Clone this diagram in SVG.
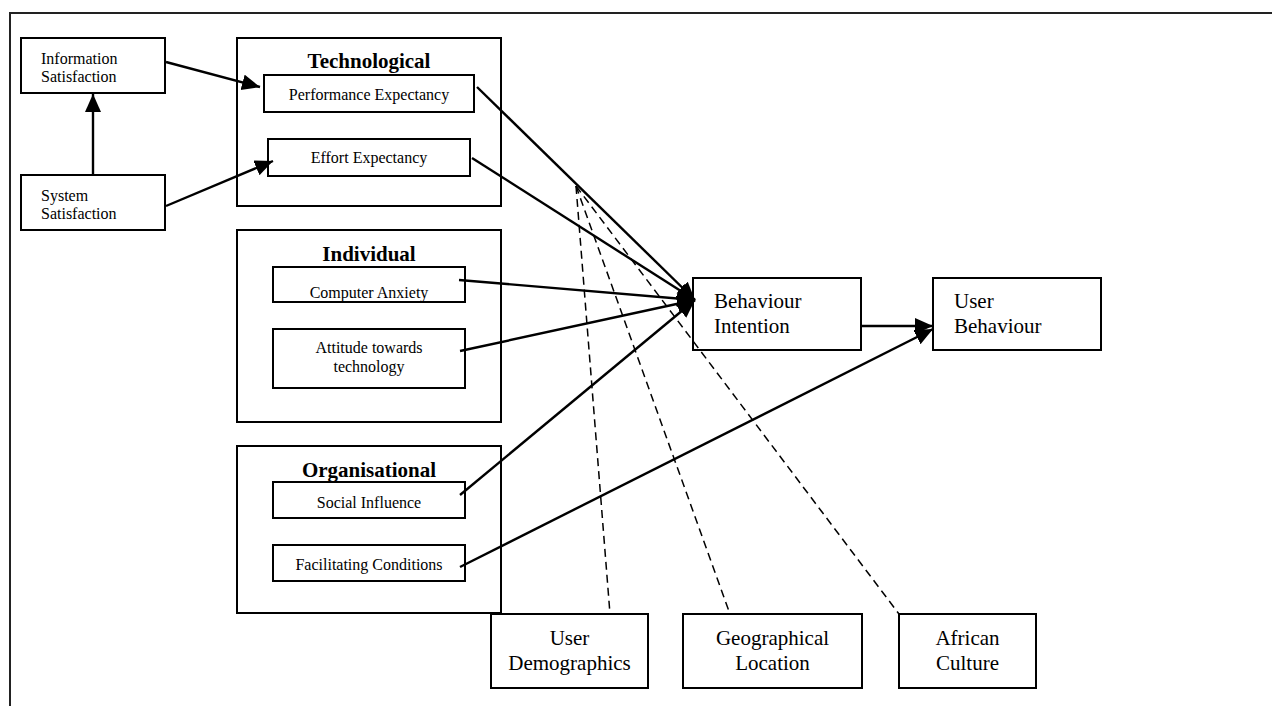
<svg xmlns="http://www.w3.org/2000/svg" width="1272" height="706" viewBox="0 0 1272 706">
<style>
.box{fill:#fff;stroke:#000;stroke-width:2}
.t{font-family:"Liberation Serif","Times New Roman",serif;fill:#000}
.s{font-size:16px}
.m{font-size:21px}
.h{font-size:21px;font-weight:bold}
.c{text-anchor:middle}
.ln{stroke:#000;stroke-width:2.4;fill:none}
.ds{stroke:#000;stroke-width:1.5;fill:none;stroke-dasharray:8,5}
</style>
<defs>
<marker id="ah" markerUnits="userSpaceOnUse" markerWidth="20" markerHeight="18" refX="18" refY="8" orient="auto">
<path d="M0,0 L18,8 L0,16 z" fill="#000"/>
</marker>
</defs>
<rect x="10" y="13" width="1300" height="720" fill="none" stroke="#222" stroke-width="2"/>

<g id="technological"><rect class="box" x="237" y="38" width="264" height="168"/><text class="t h c" x="369" y="68">Technological</text></g>
<g id="individual"><rect class="box" x="237" y="230" width="264" height="192"/><text class="t h c" x="369" y="261">Individual</text></g>
<g id="organisational"><rect class="box" x="237" y="446" width="264" height="167"/><text class="t h c" x="369" y="477">Organisational</text></g>

<g id="info-sat"><rect class="box" x="21" y="38" width="144" height="55"/><text class="t s" x="41" y="64">Information</text><text class="t s" x="41" y="82">Satisfaction</text></g>
<g id="sys-sat"><rect class="box" x="21" y="175" width="144" height="55"/><text class="t s" x="41" y="201">System</text><text class="t s" x="41" y="219">Satisfaction</text></g>

<g id="perf-exp"><rect class="box" x="264" y="75" width="210" height="37"/><text class="t s c" x="369" y="100">Performance Expectancy</text></g>
<g id="effort-exp"><rect class="box" x="268" y="139" width="202" height="37"/><text class="t s c" x="369" y="163">Effort Expectancy</text></g>
<g id="comp-anx"><rect class="box" x="273" y="267" width="192" height="35"/><text class="t s c" x="369" y="298">Computer Anxiety</text></g>
<g id="attitude"><rect class="box" x="273" y="329" width="192" height="59"/><text class="t s c" x="369" y="353">Attitude towards</text><text class="t s c" x="369" y="372">technology</text></g>
<g id="social"><rect class="box" x="273" y="482" width="192" height="36"/><text class="t s c" x="369" y="508">Social Influence</text></g>
<g id="facilitating"><rect class="box" x="273" y="545" width="192" height="36"/><text class="t s c" x="369" y="570">Facilitating Conditions</text></g>

<g id="behaviour-intention"><rect class="box" x="693" y="278" width="168" height="72"/><text class="t m" x="714" y="308">Behaviour</text><text class="t m" x="714" y="333">Intention</text></g>
<g id="user-behaviour"><rect class="box" x="933" y="278" width="168" height="72"/><text class="t m" x="954" y="308">User</text><text class="t m" x="954" y="333">Behaviour</text></g>

<g id="user-demo"><rect class="box" x="491" y="614" width="157" height="74"/><text class="t m c" x="569.5" y="645">User</text><text class="t m c" x="569.5" y="670">Demographics</text></g>
<g id="geo-loc"><rect class="box" x="683" y="614" width="179" height="74"/><text class="t m c" x="772.5" y="645">Geographical</text><text class="t m c" x="772.5" y="670">Location</text></g>
<g id="african"><rect class="box" x="899" y="614" width="137" height="74"/><text class="t m c" x="967.5" y="645">African</text><text class="t m c" x="967.5" y="670">Culture</text></g>

<g id="connectors">
<line class="ln" x1="166" y1="62" x2="260" y2="87" marker-end="url(#ah)"/>
<line class="ln" x1="166" y1="206" x2="273" y2="161" marker-end="url(#ah)"/>
<line class="ln" x1="93" y1="175" x2="93" y2="94" marker-end="url(#ah)"/>
<line class="ln" x1="477" y1="87" x2="695" y2="300" marker-end="url(#ah)"/>
<line class="ln" x1="472" y1="158" x2="695" y2="300" marker-end="url(#ah)"/>
<line class="ln" x1="459" y1="280" x2="695" y2="300" marker-end="url(#ah)"/>
<line class="ln" x1="460" y1="351" x2="695" y2="300" marker-end="url(#ah)"/>
<line class="ln" x1="460" y1="495" x2="695" y2="300" marker-end="url(#ah)"/>
<line class="ln" x1="861" y1="326" x2="933" y2="326" marker-end="url(#ah)"/>
<line class="ln" x1="460" y1="567" x2="933" y2="329" marker-end="url(#ah)"/>
<line class="ds" x1="576" y1="186" x2="610" y2="614"/>
<line class="ds" x1="576" y1="186" x2="730" y2="614"/>
<line class="ds" x1="576" y1="186" x2="899" y2="614"/>
</g>
</svg>
